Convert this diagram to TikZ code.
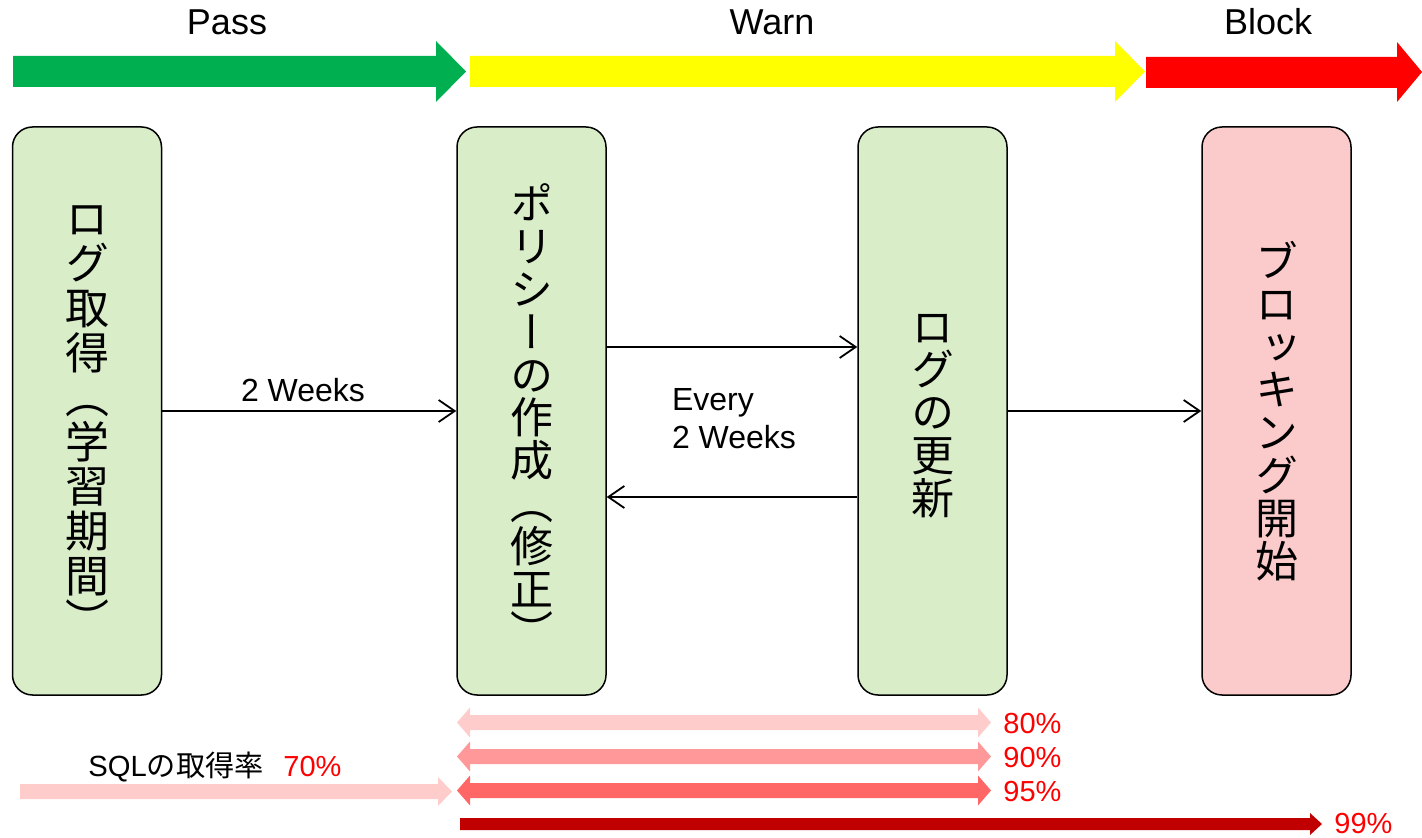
\documentclass[tikz,border=0pt]{standalone}
\usepackage{fontspec}
\setmainfont{Liberation Sans}
\newfontfamily\jp{Noto Sans CJK JP}
\newfontfamily\vjp[RawFeature=+vert]{Noto Sans CJK JP}
\usetikzlibrary{arrows.meta}
\definecolor{pgreen}{HTML}{00B050}
\definecolor{pyellow}{HTML}{FFFF00}
\definecolor{pred}{HTML}{FF0000}
\definecolor{boxgreen}{HTML}{D9EDC9}
\definecolor{boxpink}{HTML}{FBCBCB}
\definecolor{r80}{HTML}{FFCCCC}
\definecolor{r90}{HTML}{FF9999}
\definecolor{r95}{HTML}{FF6666}
\definecolor{r99}{HTML}{C00000}
\tikzset{
  stagebox/.style={draw=black, line width=0.75pt, rounded corners=10pt,
    minimum width=74.5pt, minimum height=284pt, inner sep=0pt},
  stagetext/.style={inner sep=0pt, align=center,
    font=\vjp\fontsize{21.5}{21.4}\selectfont},
  conn/.style={draw=black, line width=0.9pt, -{Straight Barb[length=8pt,width=11pt,line width=0.9pt]}},
  phase/.style={font=\fontsize{18}{20}\selectfont, anchor=base},
  small/.style={font=\fontsize{16}{19}\selectfont},
  pct/.style={font=\fontsize{14.5}{16}\selectfont, text=pred, anchor=west, inner sep=0pt},
}
\begin{document}
\begin{tikzpicture}[x=0.5pt,y=-0.5pt]
\useasboundingbox (0,0) rectangle (1422,838);
% phase arrows
\fill[pgreen] (13,56)--(436,56)--(436,41)--(466,71.5)--(436,102)--(436,87)--(13,87)--cycle;
\fill[pyellow] (470,56)--(1115,56)--(1115,41)--(1145,71.5)--(1115,102)--(1115,87)--(470,87)--cycle;
\fill[pred] (1146,57)--(1397,57)--(1397,42)--(1422,72)--(1397,102)--(1397,88)--(1146,88)--cycle;
\node[phase] (pass) at (227,35) {Pass};
\node[phase] (warn) at (772,35) {Warn};
\node[phase] (block) at (1268,35) {Block};
% boxes
\node[stagebox, fill=boxgreen] (b1) at (87,411) {};
\node[stagebox, fill=boxgreen] (b2) at (531.5,411) {};
\node[stagebox, fill=boxgreen] (b3) at (932.5,411) {};
\node[stagebox, fill=boxpink] (b4) at (1276.5,411) {};
\node[stagetext, font=\vjp\fontsize{22}{22.3}\selectfont] (b1t) at (87,421) {ロ\\グ\\取\\得\\︵\\学\\習\\期\\間\\︶};
\node[stagetext] (b2t) at (531.5,416) {ポ\\リ\\シ\\ー\\の\\作\\成\\︵\\修\\正\\︶};
\node[stagetext] (b3t) at (932.5,416) {ロ\\グ\\の\\更\\新};
\node[stagetext] (b4t) at (1276.5,411) {ブ\\ロ\\ッ\\キ\\ン\\グ\\開\\始};
% connectors
\draw[conn] (b1) -- (b2);
\draw[conn] ([yshift=32pt]b2.east) -- ([yshift=32pt]b3.west);
\draw[conn] ([yshift=-43pt]b3.west) -- ([yshift=-43pt]b2.east);
\draw[conn] (b3) -- (b4);
\node[small] (l1) at (303,390) {2 Weeks};
\node[small, align=left, anchor=west] (l2) at (665,419) {Every\\2 Weeks};
% bottom arrows
\fill[r80] (20,784)--(438,784)--(438,777)--(452,791.5)--(438,806)--(438,799)--(20,799)--cycle;
\node[small, anchor=west, inner sep=0pt, font=\fontsize{14.6}{16}\selectfont] (sql) at (88,767) {SQL{\jp の取得率}};
\node[pct] (p70) at (283,767) {70\%};
\foreach \yc/\col/\lab in {722.5/r80/80, 756.5/r90/90, 790.5/r95/95}{
  \fill[\col] (457,\yc)--(470,\yc-15)--(470,\yc-7.5)--(978,\yc-7.5)--(978,\yc-15)--(991,\yc)
     --(978,\yc+15)--(978,\yc+7.5)--(470,\yc+7.5)--(470,\yc+15)--cycle;
  \node[pct] (p\lab) at (1003,\yc+1) {\lab\%};
}
\fill[r99] (460,818)--(1310,818)--(1310,813)--(1322,824)--(1310,835)--(1310,830)--(460,830)--cycle;
\node[pct] (p99) at (1334,824) {99\%};
\end{tikzpicture}
\end{document}
